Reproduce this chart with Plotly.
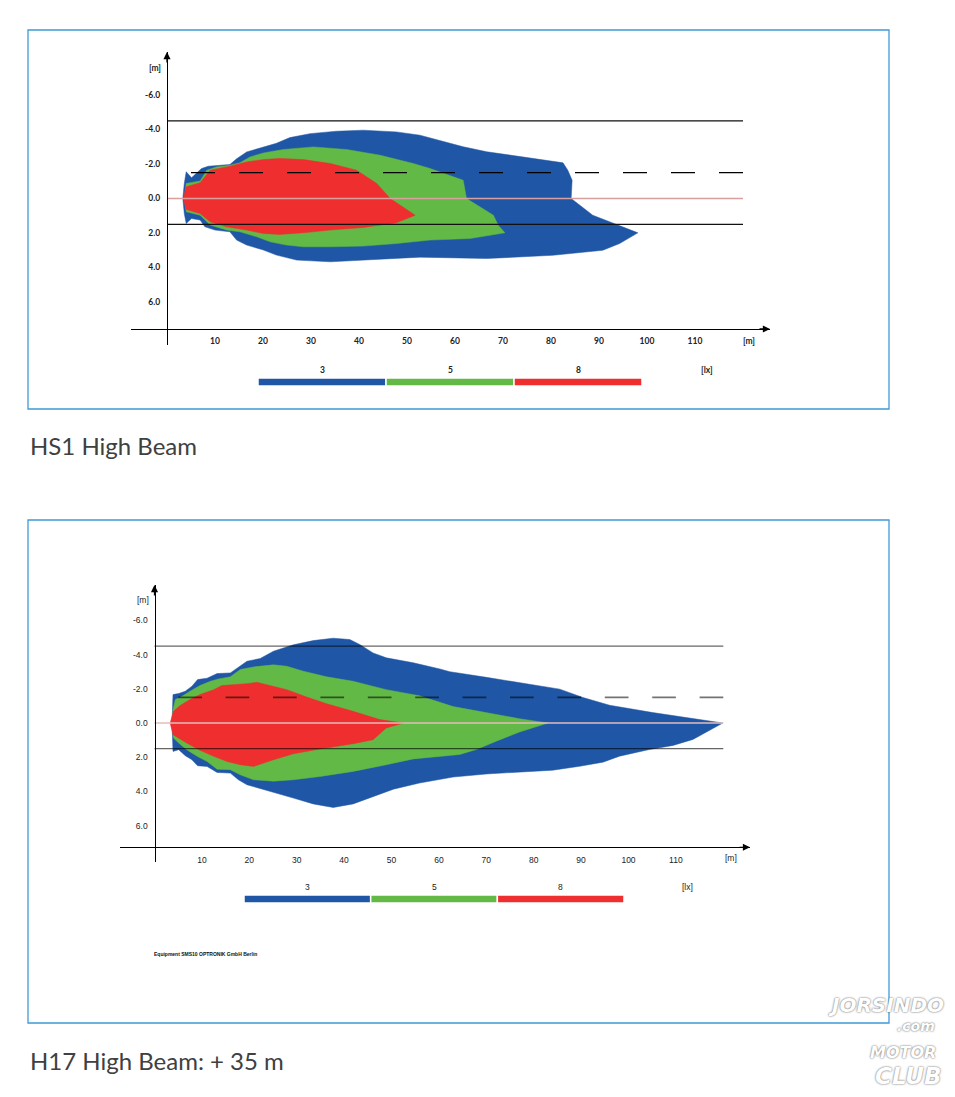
import plotly.graph_objects as go

W, H = 955, 1097

# ---------------- data ----------------
x_ticks = [10, 20, 30, 40, 50, 60, 70, 80, 90, 100, 110]
x_ticklabels = ["10", "20", "30", "40", "50", "60", "70", "80", "90", "100", "110"]
y_ticks = [-6, -4, -2, 0, 2, 4, 6]
y_ticklabels = ["-6.0", "-4.0", "-2.0", "0.0", "2.0", "4.0", "6.0"]

lux_levels = ["3", "5", "8"]
lux_colors = ["#1F56A5", "#63B946", "#EE2E2F"]

lane_edges = [-4.5, 1.5]      # solid lines [m]
lane_centre = -1.5            # dashed line [m]
road_axis = 0.0               # light centre line [m]
road_start, dash_start, road_end = 0, 5, 120

# HS1 high beam isolux outlines (x [m], y [m])
hs1_3lx = [(3.3, 0), (3.6, -0.87), (4.0, -1.55), (5.1, -1.2), (7.2, -1.74), (8.6, -1.87),
           (13.1, -1.97), (14.5, -2.3), (16.6, -2.7), (20.1, -3.0), (22.8, -3.2), (25.6, -3.53),
           (29.8, -3.76), (35.3, -3.9), (40.9, -3.96), (47.8, -3.86), (52.7, -3.67), (61.7, -3.0),
           (66.6, -2.71), (82.5, -2.07), (83.5, -1.64), (84.4, -1.06), (84.2, 0), (88.7, 0.97),
           (91.5, 1.26), (98.1, 1.99), (94.3, 2.61), (90.8, 3.0), (80.4, 3.29), (66.6, 3.48),
           (52.7, 3.4), (47.8, 3.47), (40.9, 3.61), (34.0, 3.67), (27.0, 3.57), (22.8, 3.28),
           (20.1, 2.99), (16.6, 2.7), (14.5, 2.41), (13.1, 1.93), (10.0, 1.83), (7.9, 1.64),
           (6.9, 1.25), (5.1, 1.16), (4.0, 1.45), (3.6, 0.87), (3.3, 0)]
hs1_5lx = [(3.6, 0), (4.0, -0.87), (6.9, -1.02), (8.3, -1.64), (10.3, -1.83), (13.1, -1.93),
           (15.2, -2.07), (17.3, -2.41), (20.1, -2.64), (24.2, -2.84), (30.5, -2.99), (37.4, -2.84),
           (44.4, -2.51), (51.3, -2.03), (54.8, -1.74), (61.7, -1.06), (62.4, 0), (68.0, 0.97),
           (69.0, 1.55), (70.4, 1.99), (63.1, 2.32), (54.8, 2.41), (47.8, 2.61), (40.9, 2.76),
           (34.0, 2.8), (28.4, 2.8), (24.9, 2.7), (21.5, 2.51), (18.7, 2.22), (15.2, 1.93),
           (12.4, 1.83), (9.0, 1.54), (6.9, 0.97), (5.1, 0.87), (4.0, 0.77), (3.6, 0)]
hs1_8lx = [(3.4, 0), (4.0, -0.68), (6.9, -0.91), (9.0, -1.64), (13.1, -1.87), (16.6, -2.12),
           (20.1, -2.26), (23.5, -2.32), (28.4, -2.26), (34.0, -2.03), (39.5, -1.64), (43.7, -0.87),
           (46.5, 0), (51.7, 0.97), (47.8, 1.41), (40.9, 1.68), (34.0, 1.83), (28.4, 1.99),
           (23.5, 2.08), (20.1, 2.03), (16.6, 1.83), (12.4, 1.64), (9.0, 1.35), (6.9, 0.87),
           (4.0, 0.64), (3.4, 0)]

# H17 high beam isolux outlines (x [m], y [m])
h17_3lx = [(3.7, 0), (3.9, -1.66), (5.1, -1.72), (6.5, -1.86), (7.9, -2.15), (9.1, -2.54),
           (11.1, -2.62), (13.2, -2.89), (16.0, -2.93), (17.7, -3.28), (19.5, -3.61), (22.3, -3.77),
           (25.1, -4.2), (29.3, -4.57), (33.5, -4.82), (37.7, -4.96), (41.2, -4.88), (43.3, -4.59),
           (46.1, -4.1), (48.9, -3.81), (54.6, -3.52), (60.2, -3.16), (62.3, -3.0), (70.0, -2.67),
           (79.1, -2.27), (85.5, -1.98), (90.4, -1.49), (96.0, -1.04), (105.1, -0.61),
           (113.6, -0.25), (119.9, 0), (113.6, 0.96), (109.4, 1.31), (104.4, 1.55), (98.1, 1.94),
           (94.6, 2.29), (89.7, 2.53), (84.0, 2.76), (77.0, 2.88), (70.0, 2.98), (63.0, 3.16),
           (55.9, 3.51), (50.4, 3.87), (46.1, 4.3), (41.9, 4.73), (37.7, 4.94), (33.5, 4.73),
           (29.3, 4.39), (25.8, 4.1), (22.3, 3.81), (19.5, 3.61), (17.7, 3.32), (16.0, 2.93),
           (13.2, 2.89), (11.1, 2.54), (9.1, 2.5), (7.9, 2.15), (6.5, 1.91), (5.1, 1.56),
           (3.9, 1.66), (3.7, 0)]
h17_5lx = [(3.6, 0), (3.9, -0.78), (4.4, -1.37), (5.8, -1.56), (7.5, -1.86), (9.6, -2.19),
           (11.8, -2.44), (13.5, -2.58), (16.0, -2.7), (18.1, -3.13), (20.9, -3.28), (25.1, -3.4),
           (27.9, -3.32), (31.4, -3.03), (36.3, -2.7), (41.9, -2.44), (48.9, -1.95), (55.9, -1.59),
           (63.0, -0.96), (70.0, -0.61), (77.0, -0.25), (83.0, 0), (77.0, 0.53), (72.1, 1.06),
           (67.9, 1.55), (64.4, 1.84), (60.2, 1.94), (54.6, 2.1), (48.9, 2.44), (41.9, 2.83),
           (34.9, 3.13), (29.3, 3.32), (25.1, 3.4), (20.9, 3.32), (18.1, 3.03), (16.0, 2.73),
           (13.2, 2.7), (11.1, 2.25), (9.0, 1.95), (6.8, 1.56), (5.1, 1.17), (4.0, 0.88), (3.6, 0)]
h17_8lx = [(3.3, 0), (4.0, -0.68), (5.4, -1.02), (7.5, -1.37), (9.6, -1.66), (12.5, -1.95),
           (14.2, -2.19), (16.7, -2.23), (19.5, -2.3), (21.6, -2.38), (23.7, -2.25), (27.9, -1.95),
           (32.1, -1.52), (36.3, -1.13), (41.9, -0.68), (47.5, -0.2), (52.5, 0), (48.9, 0.29),
           (46.1, 0.98), (41.9, 1.21), (34.9, 1.52), (29.3, 1.8), (25.1, 2.15), (22.3, 2.44),
           (20.9, 2.54), (18.1, 2.44), (15.3, 2.25), (12.5, 1.95), (9.6, 1.6), (6.8, 1.17),
           (5.1, 0.88), (3.9, 0.68), (3.3, 0)]

titles = ["HS1 High Beam", "H17 High Beam: + 35 m"]
equipment_note = "Equipment SMS10 OPTRONIK GmbH Berlin"


# ---------------- helpers (pixel -> paper) ----------------
def px(x):
    return x / W


def py(y):
    return 1 - y / H


fig = go.Figure()

charts = [
    dict(polys=[hs1_3lx, hs1_5lx, hs1_8lx], xa="x", ya="y",
         x0px=167, ppm_x=4.8, y0px=198.5, ppm_y=17.25,
         left=131, right=770, top=52, bottom=345, xaxis_px=329,
         line_col="#111111", dash_col="#000000", axis_col="#d9a0a0", dash_w=1.3,
         font=dict(family="Lato", size=8.5, color="#222", weight="bold"),
         leg=(258, 642, 378, 386), leg_lab_y=370, lx_x=707,
         ym_lab=(155, 68), xm_lab=(749, 341),
         box=(28, 30, 889, 409), title_y=446),
    dict(polys=[h17_3lx, h17_5lx, h17_8lx], xa="x2", ya="y2",
         x0px=154.5, ppm_x=4.74, y0px=723, ppm_y=17.1,
         left=120, right=750, top=585, bottom=862, xaxis_px=847.3,
         line_col="rgba(0,0,0,0.6)", dash_col="rgba(0,0,0,0.55)", axis_col="#e3bcbc", dash_w=1.7,
         font=dict(family="Liberation Sans", size=8.5, color="#222"),
         leg=(244, 624, 895, 903), leg_lab_y=887, lx_x=687,
         ym_lab=(143, 600), xm_lab=(731, 858),
         box=(28, 520, 889, 1023), title_y=1060),
]

layout_axes = {}
annotations = []
shapes = []


def note(x, y, text, font, xref="paper", xanchor="center"):
    return dict(x=x, y=y, xref=xref, yref="paper", text=text, showarrow=False,
                xanchor=xanchor, yanchor="middle", font=font)


for i, c in enumerate(charts):
    n = "" if i == 0 else str(i + 1)
    xr = [(c["left"] - c["x0px"]) / c["ppm_x"], (c["right"] - c["x0px"]) / c["ppm_x"]]
    yr = [(c["bottom"] - c["y0px"]) / c["ppm_y"], (c["top"] - c["y0px"]) / c["ppm_y"]]

    # isolux areas
    for poly, col, lvl in zip(c["polys"], lux_colors, lux_levels):
        fig.add_trace(go.Scatter(
            x=[p[0] for p in poly], y=[p[1] for p in poly],
            mode="lines", fill="toself", fillcolor=col,
            line=dict(width=0.5, color=col), hoverinfo="skip",
            name=f"{lvl} lx", showlegend=False, xaxis=c["xa"], yaxis=c["ya"]))

    # road lines
    for ye in lane_edges:
        fig.add_trace(go.Scatter(x=[road_start, road_end], y=[ye, ye], mode="lines",
                                 line=dict(color=c["line_col"], width=1.2), hoverinfo="skip",
                                 showlegend=False, xaxis=c["xa"], yaxis=c["ya"]))
    dpx = 5 * c["ppm_x"]
    fig.add_trace(go.Scatter(x=[dash_start, road_end], y=[lane_centre, lane_centre], mode="lines",
                             line=dict(color=c["dash_col"], width=c["dash_w"],
                                       dash=f"{dpx:.1f}px,{dpx:.1f}px"),
                             hoverinfo="skip", showlegend=False, xaxis=c["xa"], yaxis=c["ya"]))
    fig.add_trace(go.Scatter(x=[road_start, road_end], y=[road_axis, road_axis], mode="lines",
                             line=dict(color=c["axis_col"], width=1.3), hoverinfo="skip",
                             showlegend=False, xaxis=c["xa"], yaxis=c["ya"]))

    layout_axes["xaxis" + n] = dict(
        domain=[px(c["left"]), px(c["right"])], range=xr, anchor="free",
        position=py(c["xaxis_px"]), showline=True, linecolor="#000", linewidth=1.3,
        showgrid=False, zeroline=False, tickvals=x_ticks, ticktext=x_ticklabels,
        ticks="outside", ticklen=4, tickcolor="rgba(0,0,0,0)", tickfont=c["font"],
        fixedrange=True)
    layout_axes["yaxis" + n] = dict(
        domain=[py(c["bottom"]), py(c["top"])], range=yr, anchor="free",
        position=px(c["x0px"]), showline=True, linecolor="#000", linewidth=1.3,
        showgrid=False, zeroline=False, tickvals=y_ticks, ticktext=y_ticklabels,
        ticks="outside", ticklen=5, tickcolor="rgba(0,0,0,0)", tickfont=c["font"],
        fixedrange=True)

    # axis arrows
    annotations.append(dict(x=px(c["right"]), y=py(c["xaxis_px"]), xref="paper", yref="paper",
                            ax=-12, ay=0, showarrow=True, arrowhead=2, arrowsize=1.1,
                            arrowwidth=1.3, arrowcolor="#000", text=""))
    annotations.append(dict(x=px(c["x0px"]), y=py(c["top"]), xref="paper", yref="paper",
                            ax=0, ay=12, showarrow=True, arrowhead=2, arrowsize=1.1,
                            arrowwidth=1.3, arrowcolor="#000", text=""))
    # unit labels
    annotations.append(note(px(c["ym_lab"][0]), py(c["ym_lab"][1]), "[m]", c["font"]))
    annotations.append(note(px(c["xm_lab"][0]), py(c["xm_lab"][1]), "[m]", c["font"]))
    annotations.append(note(px(c["lx_x"]), py(c["leg_lab_y"]), "[lx]", c["font"]))

    # colour key as a stacked horizontal bar
    lx0, lx1, ly0, ly1 = c["leg"]
    ka = str(3 + 2 * i)
    layout_axes["xaxis" + ka] = dict(domain=[px(lx0), px(lx1)], range=[0, len(lux_levels)],
                                     visible=False, anchor="y" + ka, fixedrange=True)
    layout_axes["yaxis" + ka] = dict(domain=[py(ly1), py(ly0)], range=[-0.5, 0.5],
                                     visible=False, anchor="x" + ka, fixedrange=True)
    fig.add_trace(go.Bar(x=[1] * len(lux_levels), base=list(range(len(lux_levels))),
                         y=[0] * len(lux_levels), orientation="h", width=1,
                         marker=dict(color=lux_colors, line=dict(color="white", width=1.5)),
                         hoverinfo="skip", showlegend=False, xaxis="x" + ka, yaxis="y" + ka))
    for k, lvl in enumerate(lux_levels):
        annotations.append(note(k + 0.5, py(c["leg_lab_y"]), lvl, c["font"], xref="x" + ka))

    # frame + title
    bx0, by0, bx1, by1 = c["box"]
    shapes.append(dict(type="rect", xref="paper", yref="paper", x0=px(bx0), x1=px(bx1),
                       y0=py(by1), y1=py(by0), line=dict(color="#3F9AD6", width=1.3)))
    annotations.append(note(px(28), py(c["title_y"]), titles[i],
                            dict(family="Lato", size=24, color="#404040"), xanchor="left"))

annotations.append(note(px(152), py(954), equipment_note,
                        dict(family="Liberation Sans", size=5, color="#111", weight="bold"),
                        xanchor="left"))

# watermark logo (approximation)
logo_font = dict(family="DejaVu Sans", color="white", style="italic", weight="bold",
                 shadow="0px 0px 2px #444")
annotations += [
    note(px(886), py(1005), "JORSINDO", dict(size=20, **logo_font)),
    note(px(916), py(1026), ".com", dict(size=14, **logo_font)),
    note(px(903), py(1052), "MOTOR", dict(size=16, **logo_font)),
    note(px(908), py(1076), "CLUB", dict(size=23, **logo_font)),
]

fig.update_layout(
    width=W, height=H, margin=dict(l=0, r=0, t=0, b=0),
    paper_bgcolor="white", plot_bgcolor="rgba(0,0,0,0)",
    showlegend=False, annotations=annotations, shapes=shapes, **layout_axes)

fig.write_html("out.html")
